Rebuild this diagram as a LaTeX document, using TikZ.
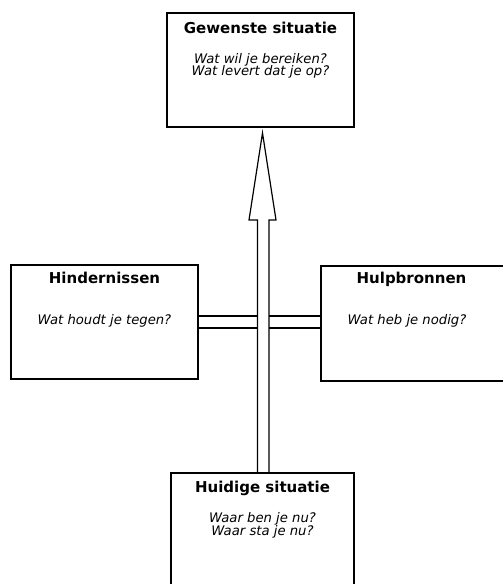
\documentclass[tikz,border=0pt]{standalone}
\usepackage{fontspec}
\setmainfont{DejaVu Sans}
\begin{document}
\begin{tikzpicture}[x=1pt,y=-1pt,
  box/.style={draw,line width=1.2pt,rectangle,inner sep=0pt},
  ttl/.style={anchor=base,font=\bfseries\fontsize{15}{17}\selectfont},
  qst/.style={anchor=base,font=\itshape\fontsize{13.2}{15}\selectfont},
  conn/.style={line width=1.2pt}]
\useasboundingbox (0,0) rectangle (503,584);
% boxes
\node[box,minimum width=187pt,minimum height=114pt] (gew) at (260.5,70) {};
\node[box,minimum width=187pt,minimum height=114pt] (hin) at (104.5,322) {};
\node[box,minimum width=191pt,minimum height=115pt] (hul) at (416.5,323.5) {};
\node[box,minimum width=183pt,minimum height=120pt] (hui) at (262.5,533) {};
% texts
\node[ttl] (gewt) at (260.5,33) {Gewenste situatie};
\node[qst] (gewq1) at (260.5,63) {Wat wil je bereiken?};
\node[qst] (gewq2) at (260.5,75) {Wat levert dat je op?};
\node[ttl] (hint) at (104.5,283) {Hindernissen};
\node[qst] (hinq) at (104.5,324) {Wat houdt je tegen?};
\node[ttl] (hult) at (411.5,283) {Hulpbronnen};
\node[qst] (hulq) at (407,324) {Wat heb je nodig?};
\node[ttl] (huit) at (262.5,492) {Huidige situatie};
\node[qst] (huiq1) at (262.5,522) {Waar ben je nu?};
\node[qst] (huiq2) at (262.5,535) {Waar sta je nu?};
% hollow block arrow
\coordinate (sL) at (257.5,220);
\coordinate (sR) at (269,220);
\coordinate (hL) at (249,220);
\coordinate (hR) at (276,220);
\coordinate (tip) at (262.5,133);
\draw[conn,line join=miter] (sL |- hui.north) -- (sL) -- (hL) -- (tip) -- (hR) -- (sR) -- (sR |- hui.north);
% double connectors
\coordinate (r1) at (0,316);
\coordinate (r2) at (0,328);
\draw[conn] (hin.east |- r1) -- (sL |- r1);
\draw[conn] (hin.east |- r2) -- (sL |- r2);
\draw[conn] (sR |- r1) -- (hul.west |- r1);
\draw[conn] (sR |- r2) -- (hul.west |- r2);
\end{tikzpicture}
\end{document}
